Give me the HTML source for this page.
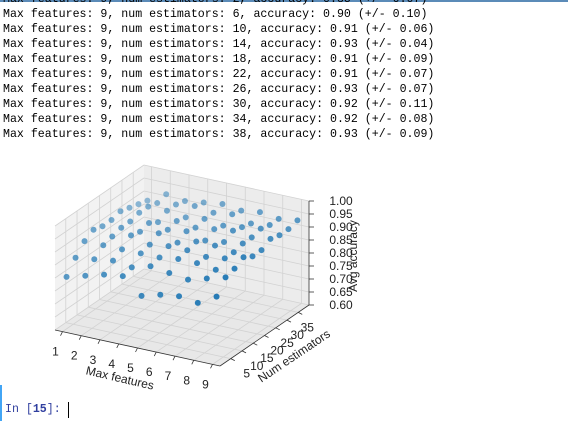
<!DOCTYPE html>
<html><head><meta charset="utf-8">
<style>
body{margin:0;width:568px;height:421px;overflow:hidden;background:#fff;position:relative;font-family:"Liberation Sans",sans-serif}
.topbar{position:absolute;left:0;top:0;width:568px;height:2px;background:#5b8bb8}
pre{position:absolute;left:3px;top:-8px;margin:0;font-family:"Liberation Mono",monospace;font-size:11.6px;line-height:15px;color:#000}
.sel{position:absolute;left:0;top:385px;width:2px;height:36px;background:#42a5f5}
.prompt{position:absolute;left:5px;top:403px;font-family:"Liberation Mono",monospace;font-size:11.6px;color:#303f9f}
.cursor{position:absolute;left:68px;top:402px;width:1px;height:16px;background:#000}
svg{position:absolute;left:0;top:0}
</style></head><body>
<div class="topbar"></div>
<pre>Max features: 9, num estimators: 2, accuracy: 0.85 (+/- 0.07)
Max features: 9, num estimators: 6, accuracy: 0.90 (+/- 0.10)
Max features: 9, num estimators: 10, accuracy: 0.91 (+/- 0.06)
Max features: 9, num estimators: 14, accuracy: 0.93 (+/- 0.04)
Max features: 9, num estimators: 18, accuracy: 0.91 (+/- 0.09)
Max features: 9, num estimators: 22, accuracy: 0.91 (+/- 0.07)
Max features: 9, num estimators: 26, accuracy: 0.93 (+/- 0.07)
Max features: 9, num estimators: 30, accuracy: 0.92 (+/- 0.11)
Max features: 9, num estimators: 34, accuracy: 0.92 (+/- 0.08)
Max features: 9, num estimators: 38, accuracy: 0.93 (+/- 0.09)</pre>
<svg id="chart" width="568" height="421"></svg>
<div class="sel"></div>
<div class="prompt">In [<b>15</b>]:</div>
<div class="cursor"></div>
<script>
const maxFeatures=[1,2,3,4,5,6,7,8,9];
const numEstimators=[2,6,10,14,18,22,26,30,34,38];
const acc1=[0.80,0.85,0.89,0.91,0.90,0.90,0.91,0.90,0.89,0.88];
const acc2=[0.82,0.86,0.89,0.90,0.91,0.91,0.92,0.92,0.91,0.92];
const acc3=[0.84,0.87,0.89,0.92,0.91,0.92,0.90,0.92,0.92,0.91];
const acc4=[0.85,0.86,0.89,0.90,0.92,0.91,0.92,0.91,0.93,0.92];
const acc5=[0.79,0.88,0.89,0.91,0.90,0.92,0.91,0.92,0.92,0.93];
const acc6=[0.81,0.87,0.90,0.91,0.92,0.90,0.92,0.91,0.93,0.92];
const acc7=[0.82,0.86,0.90,0.90,0.92,0.91,0.93,0.92,0.91,0.93];
const acc8=[0.81,0.88,0.89,0.91,0.91,0.92,0.92,0.93,0.92,0.92];
const acc9=[0.85,0.90,0.91,0.93,0.91,0.91,0.93,0.92,0.92,0.93];
const accuracy=[acc1,acc2,acc3,acc4,acc5,acc6,acc7,acc8,acc9];
const xTicks=[1,2,3,4,5,6,7,8,9];
const yTicks=[5,10,15,20,25,30,35];
const zTicks=[0.60,0.65,0.70,0.75,0.80,0.85,0.90,0.95,1.00];
const xLim=[0.6,9.4], yLim=[0.2,39.8], zLim=[0.6,1.0];

const NS="http://www.w3.org/2000/svg";
const svg=document.getElementById('chart');
const O=[55,330],U=[165,36],V=[89,-61],W=[0,-104];
function P(u,v,w){return [O[0]+u*U[0]+v*V[0]+w*W[0],O[1]+u*U[1]+v*V[1]+w*W[1]];}
const su=x=>(x-xLim[0])/(xLim[1]-xLim[0]);
const sv=y=>(y-yLim[0])/(yLim[1]-yLim[0]);
const sw=z=>(z-zLim[0])/(zLim[1]-zLim[0]);
function mk(t,a){const e=document.createElementNS(NS,t);for(const k in a)e.setAttribute(k,a[k]);svg.appendChild(e);return e;}
function poly(pts,fill,name){const e=mk('polygon',{points:pts.map(p=>p.join(',')).join(' '),fill:fill});

}
function line(a,b,col,w,name){const e=mk('line',{x1:a[0],y1:a[1],x2:b[0],y2:b[1],stroke:col,'stroke-width':w});

}
function text(x,y,s,name,extra){const e=mk('text',Object.assign({x:x,y:y,'font-size':'12px','font-family':'Liberation Sans, sans-serif','text-anchor':'middle','dominant-baseline':'central',fill:'#222'},extra||{}));e.textContent=s;

}
poly([P(0,0,0),P(0,1,0),P(0,1,1),P(0,0,1)],'#f2f2f2','left-pane');
poly([P(0,1,0),P(1,1,0),P(1,1,1),P(0,1,1)],'#ececec','back-pane');
poly([P(0,0,0),P(1,0,0),P(1,1,0),P(0,1,0)],'#e8e8e8','floor-pane');
const g='#d2d2d2';
xTicks.forEach(x=>{const u=su(x);line(P(u,0,0),P(u,1,0),g,0.8,'grid-x-floor');line(P(u,1,0),P(u,1,1),g,0.8,'grid-x-back');});
yTicks.forEach(y=>{const v=sv(y);line(P(0,v,0),P(1,v,0),g,0.8,'grid-y-floor');line(P(0,v,0),P(0,v,1),g,0.8,'grid-y-left');});
zTicks.forEach(z=>{const w=sw(z);line(P(0,0,w),P(0,1,w),g,0.8,'grid-z-left');line(P(0,1,w),P(1,1,w),g,0.8,'grid-z-back');});
line(P(0,0,0),P(1,0,0),'#333',0.8,'x-axis-line');
line(P(1,0,0),P(1,1,0),'#333',0.8,'y-axis-line');
line(P(1,1,0),P(1,1,1),'#333',0.8,'z-axis-line');
xTicks.forEach(x=>{const p=P(su(x),0,0);line(p,[p[0]-2,p[1]+4],'#333',0.8,'x-tick');text(p[0]-7,p[1]+20,String(x),'x-tick-label');});
yTicks.forEach(y=>{const v=sv(y),p=P(1,v,0);line(p,[p[0]+4,p[1]+2],'#333',0.8,'y-tick');text(p[0]+17-9*v,p[1]+15,String(y),'y-tick-label');});
zTicks.forEach(z=>{const p=P(1,1,sw(z));line(p,[p[0]+5,p[1]],'#333',0.8,'z-tick');text(p[0]+32,p[1],z.toFixed(2),'z-tick-label');});
text(120,378,'Max features','x-axis-title',{transform:'rotate(13 120 378)'});
text(294,356,'Num estimators','y-axis-title',{transform:'rotate(-34 294 356)'});
text(353,256,'Avg accuracy','z-axis-title',{transform:'rotate(-90 353 256)'});
const pts=[];
maxFeatures.forEach((x,i)=>numEstimators.forEach((n,j)=>{const u=su(x),v=sv(n);pts.push({u:u,v:v,w:sw(accuracy[i][j]),d:(1-u)+v});}));
pts.sort((a,b)=>b.d-a.d);
pts.forEach(p=>{const c=P(p.u,p.v,p.w);const op=1-0.55*(p.d/2);
const e=mk('circle',{cx:c[0],cy:c[1],r:3,fill:'#1f77b4','fill-opacity':op.toFixed(2)});

});
</script>
</body></html>
